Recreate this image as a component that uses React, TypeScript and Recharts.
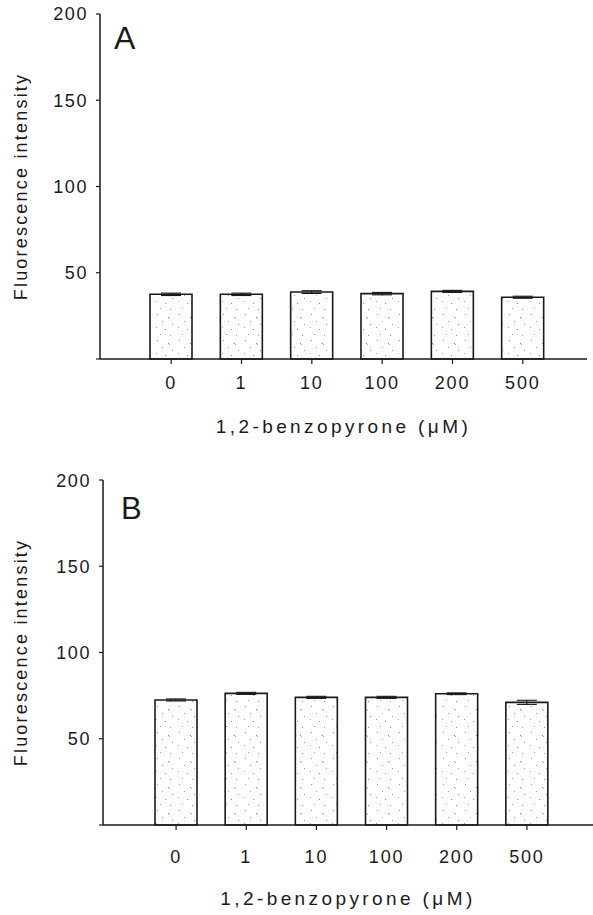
import React from 'react';
import { BarChart, Bar, XAxis, YAxis, ErrorBar, Label } from 'recharts';

const concentrations = ['0', '1', '10', '100', '200', '500'];
const intensityA = [37.5, 37.5, 38.8, 37.9, 39.2, 35.8];
const errorA = [0.7, 0.7, 0.8, 0.7, 0.6, 0.6];
const intensityB = [72.5, 76.3, 74.0, 74.0, 76.1, 71.1];
const errorB = [0.6, 0.6, 0.6, 0.6, 0.5, 1.2];
const yTicks = [0, 50, 100, 150, 200];

const FONT = '"Liberation Sans", Arial, sans-serif';
const INK = '#1a1a1a';

const build = (vals: number[], errs: number[]) =>
  concentrations.map((c, i) => ({ conc: c, value: vals[i], err: errs[i] }));

const YTitle = (props: any) => {
  const vb = props.viewBox || { x: 0, y: 0, width: 0, height: 0 };
  const cx = 21;
  const cy = vb.y + vb.height / 2;
  return (
    <text
      x={cx}
      y={cy}
      transform={`rotate(-90 ${cx} ${cy})`}
      textAnchor="middle"
      dominantBaseline="central"
      fontSize={18}
      letterSpacing={2.2}
      fill={INK}
      fontFamily={FONT}
    >
      Fluorescence intensity
    </text>
  );
};

const XTitle = (top: number) => (props: any) => {
  const vb = props.viewBox || { x: 0, y: 0, width: 0, height: 0 };
  return (
    <text
      x={vb.x + vb.width / 2}
      y={vb.y + top}
      textAnchor="middle"
      dy="0.8em"
      fontSize={19}
      letterSpacing={3.4}
      fill={INK}
      fontFamily={FONT}
    >
      1,2-benzopyrone (μM)
    </text>
  );
};

// speckled grey texture used inside the bars
const Speckle = ({ id }: { id: string }) => (
  <defs>
    <pattern id={id} width="22" height="26" patternUnits="userSpaceOnUse">
      <rect width="22" height="26" fill="#ffffff" />
      <rect x="3" y="2" width="1" height="1" fill="#9a9a9a" />
      <rect x="14" y="5" width="1" height="1" fill="#8a8a8a" />
      <rect x="15" y="6" width="1" height="1" fill="#b0b0b0" />
      <rect x="8" y="9" width="1" height="1" fill="#a0a0a0" />
      <rect x="18" y="12" width="1" height="1" fill="#999" />
      <rect x="2" y="15" width="1" height="1" fill="#aaa" />
      <rect x="11" y="17" width="1" height="1" fill="#909090" />
      <rect x="6" y="22" width="1" height="1" fill="#a5a5a5" />
      <rect x="16" y="23" width="1" height="1" fill="#959595" />
    </pattern>
  </defs>
);

interface PanelProps {
  letter: string;
  values: number[];
  errors: number[];
  height: number;
  top: number;
  plotTop: number;
  axisWidth: number;
  right: number;
  xHeight: number;
  tickGap: number;
  titleTop: number;
  padLeft: number;
  padRight: number;
  boxed: boolean;
  letterPos: { left: number; top: number; size: number };
}

const Panel: React.FC<PanelProps> = (p) => {
  const data = build(p.values, p.errors);
  const pid = `speckle-${p.letter}`;
  return (
    <div style={{ position: 'absolute', left: 0, top: p.top, width: 593, height: p.height }}>
      <BarChart
        width={593}
        height={p.height}
        data={data}
        margin={{ top: p.plotTop, right: p.right, bottom: 0, left: 0 }}
        barSize={42}
      >
        <Speckle id={pid} />
        <XAxis
          dataKey="conc"
          height={p.xHeight}
          padding={{ left: p.padLeft, right: p.padRight }}
          axisLine={{ stroke: INK, strokeWidth: 1.5 }}
          tickLine={{ stroke: INK, strokeWidth: 1.2 }}
          tickSize={5}
          tickMargin={p.tickGap}
          tick={{ fontSize: 18, fill: INK, fontFamily: FONT, letterSpacing: 1.8 }}
        >
          <Label content={XTitle(p.titleTop)} />
        </XAxis>
        <XAxis
          xAxisId="top"
          dataKey="conc"
          orientation="top"
          height={0}
          tick={false}
          tickLine={false}
          axisLine={{ stroke: INK, strokeWidth: 1.5 }}
        />
        <YAxis
          domain={[0, 200]}
          ticks={yTicks}
          width={p.axisWidth}
          axisLine={{ stroke: INK, strokeWidth: 1.5 }}
          tickLine={{ stroke: INK, strokeWidth: 1.2 }}
          tickSize={4}
          tickMargin={8}
          tickFormatter={(v: number) => (v === 0 ? '' : String(v))}
          tick={{ fontSize: 18, fill: INK, fontFamily: FONT, letterSpacing: 1.6 }}
        >
          <Label content={YTitle} />
        </YAxis>
        {p.boxed && (
          <YAxis
            yAxisId="right"
            orientation="right"
            width={0}
            domain={[0, 200]}
            tick={false}
            tickLine={false}
            axisLine={{ stroke: INK, strokeWidth: 1.5 }}
          />
        )}
        <Bar dataKey="value" fill={`url(#${pid})`} stroke={INK} strokeWidth={1.6} isAnimationActive={false}>
          <ErrorBar dataKey="err" width={10} stroke={INK} strokeWidth={1.1} direction="y" />
        </Bar>
      </BarChart>
      <div
        style={{
          position: 'absolute',
          left: p.letterPos.left,
          top: p.letterPos.top,
          fontSize: p.letterPos.size,
          lineHeight: 1,
          fontFamily: FONT,
          color: INK,
        }}
      >
        {p.letter}
      </div>
    </div>
  );
};

export default function App() {
  return (
    <div style={{ position: 'absolute', left: 0, top: 0, width: 593, height: 915, background: '#fff' }}>
      <Panel
        letter="A"
        values={intensityA}
        errors={errorA}
        top={0}
        height={470}
        plotTop={14}
        axisWidth={100}
        right={6}
        xHeight={111}
        tickGap={12}
        titleTop={59}
        padLeft={36}
        padRight={29}
        boxed={true}
        letterPos={{ left: 114, top: 22, size: 32 }}
      />
      <Panel
        letter="B"
        values={intensityB}
        errors={errorB}
        top={470}
        height={445}
        plotTop={10}
        axisWidth={103}
        right={0}
        xHeight={90}
        tickGap={20}
        titleTop={65}
        padLeft={38}
        padRight={31}
        boxed={false}
        letterPos={{ left: 121, top: 23, size: 31 }}
      />
    </div>
  );
}
